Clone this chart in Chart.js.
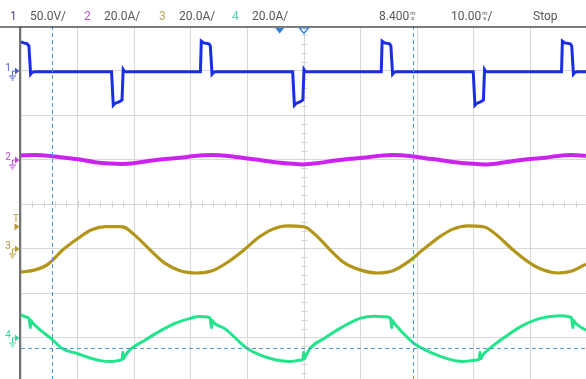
<!DOCTYPE html>
<html><head><meta charset="utf-8">
<script src="https://cdn.jsdelivr.net/npm/chart.js@4/dist/chart.umd.min.js"></script>
<style>
html,body{margin:0;padding:0;background:#fff;overflow:hidden;width:586px;height:379px;}
#wrap{position:absolute;left:0;top:0;width:590px;height:384px;}
.h{position:absolute;top:9px;font:12px Roboto, sans-serif;line-height:14px;color:#555;white-space:nowrap;}
.u{display:inline-block;font-size:6px;line-height:5px;text-align:center;vertical-align:baseline;margin-left:1px;}
</style></head>
<body>
<div id="wrap"><canvas id="c"></canvas></div>
<div class="h" style="left:10px;color:#4b4ba5">1</div>
<div class="h" style="left:30px">50.0V/</div>
<div class="h" style="left:84px;color:#c050d0">2</div>
<div class="h" style="left:104px">20.0A/</div>
<div class="h" style="left:159px;color:#b8a860">3</div>
<div class="h" style="left:179px">20.0A/</div>
<div class="h" style="left:232px;color:#50d0a0">4</div>
<div class="h" style="left:252px">20.0A/</div>
<div class="h" style="left:379px">8.400<span class="u">m<br>s</span></div>
<div class="h" style="left:451px">10.00<span class="u">m<br>s</span>/</div>
<div class="h" style="left:533px">Stop</div>
<script>
// time axis in ms (10 ms/div), vertical axis in divisions
const xTicks = [0,10,20,30,40,50,60,70,80,90,100];
const yTicks = [-4,-3,-2,-1,0,1,2,3,4];

const ch1T = [0,0.5,1.1,1.4,1.7,1.9,2.3, 16.0,16.3,16.6,17.4,17.85,18.05,18.25,18.6, 31.7,31.85,32.3,33.2,33.45,33.75,33.95,34.3, 48.0,48.3,48.6,49.35,49.8,50.0,50.2,50.55, 63.65,63.8,64.25,65.1,65.35,65.65,65.85,66.2, 79.9,80.2,80.5,81.25,81.7,81.9,82.1,82.45, 95.5,95.65,96.1,97.05,97.3,97.6,97.8,98.15,100];
const ch1V = [3.64,3.62,3.60,3.55,2.92,2.95,2.97, 2.97,2.22,2.26,2.30,2.34,3.02,2.98,2.97, 2.97,3.66,3.62,3.60,3.55,2.92,2.95,2.97, 2.97,2.22,2.26,2.30,2.34,3.02,2.98,2.97, 2.97,3.66,3.62,3.60,3.55,2.92,2.95,2.97, 2.97,2.22,2.26,2.30,2.34,3.02,2.98,2.97, 2.97,3.66,3.62,3.60,3.55,2.92,2.95,2.97,2.97];

const ch2T = [0,2.5,5.1,7.8,10.4,13.1,15.7,17.8,20.1,22.8,25.4,28.1,30.7,33.7,36.6,39.6,42.2,44.9,47.5,49.8,52.5,55.1,57.8,60.4,63.1,65.7,68.7,71.4,74.0,76.7,79.3,82.0,84.6,87.3,89.9,92.6,94.9,97.3,99.8];
const ch2V = [1.09,1.10,1.08,1.04,1.00,0.94,0.91,0.90,0.92,0.97,1.01,1.04,1.08,1.10,1.08,1.03,0.99,0.94,0.91,0.89,0.92,0.97,1.01,1.04,1.08,1.10,1.08,1.03,0.99,0.94,0.91,0.89,0.92,0.97,1.01,1.04,1.08,1.10,1.08];

const ch3T = [0,2.5,4.8,7.4,10.1,12.5,15.0,17.5,18.2,20.1,22.8,25.4,28.1,31.1,33.8,36.6,39.4,41.9,44.4,47.0,49.8,50.4,52.1,54.6,57.2,59.9,62.9,65.7,68.4,71.0,73.7,76.2,79.0,81.6,82.2,84.1,86.9,89.6,92.2,94.9,97.5,99.8];
const ch3V = [-1.53,-1.48,-1.35,-1.03,-0.77,-0.58,-0.51,-0.51,-0.52,-0.70,-1.03,-1.33,-1.50,-1.55,-1.50,-1.30,-1.03,-0.76,-0.57,-0.49,-0.51,-0.53,-0.70,-1.03,-1.33,-1.48,-1.55,-1.50,-1.30,-1.03,-0.76,-0.57,-0.49,-0.51,-0.53,-0.70,-1.03,-1.30,-1.48,-1.55,-1.50,-1.35];

const ch4T = [0,0.9,1.45,1.65,1.8,2.0,3.5,5.5,7.2,9.9,12.2,14.0,16.1,17.5,17.85,18.0,18.15,18.35,19.6,21.9,24.6,27.2,29.9,31.6,33.0,33.45,33.65,33.8,34.0,36.0,39.9,42.2,44.9,47.5,49.3,49.8,49.95,50.1,50.3,51.1,53.7,56.4,59.9,62.5,64.8,65.3,65.5,65.65,65.85,67.5,69.3,70.8,74.0,78.1,80.3,80.95,81.1,81.25,81.45,82.9,85.5,88.2,91.7,95.2,97.0,97.3,97.5,97.65,97.85,99.8];
const ch4V = [-2.49,-2.54,-2.58,-2.78,-2.62,-2.66,-2.84,-3.04,-3.24,-3.36,-3.46,-3.52,-3.54,-3.51,-3.49,-3.33,-3.48,-3.42,-3.24,-3.06,-2.85,-2.68,-2.57,-2.53,-2.54,-2.58,-2.78,-2.62,-2.66,-2.80,-3.24,-3.39,-3.50,-3.54,-3.51,-3.49,-3.33,-3.48,-3.42,-3.24,-3.01,-2.79,-2.57,-2.52,-2.54,-2.58,-2.78,-2.62,-2.66,-2.90,-3.12,-3.24,-3.42,-3.54,-3.51,-3.49,-3.33,-3.48,-3.42,-3.24,-2.99,-2.76,-2.57,-2.51,-2.54,-2.58,-2.78,-2.62,-2.66,-2.84];

const chLabels = ['1','2','3','4'];
const chGround = [3,1,-1,-3];
const chMarkColors = ['#4a5ccf','#c04ad8','#b49a2a','#3bd79a'];
const triggerLevel = -0.5;
const cursorT = [5.5, 69.3];
const cursorV = [-3.24];
const topMarkT = [45.7, 50];

function pts(t,v){return t.map((x,i)=>({x:x,y:v[i]}));}

const scopePlugin = {
  id:'scope',
  beforeDatasetsDraw(chart){
    const {ctx, chartArea:a, scales:{x,y}} = chart;
    ctx.save();
    ctx.strokeStyle='#d2d2d2'; ctx.lineWidth=1;
    const cx = Math.round(x.getPixelForValue(50))+0.5;
    const cy = Math.round(y.getPixelForValue(0))+0.5;
    ctx.beginPath();
    for(let v=-4; v<=4.001; v+=0.2){const py=Math.round(y.getPixelForValue(v))+0.5; ctx.moveTo(cx-3,py); ctx.lineTo(cx+3,py);}
    for(let t=0; t<=100.001; t+=2){const px=Math.round(x.getPixelForValue(t))+0.5; ctx.moveTo(px,cy-3); ctx.lineTo(px,cy+3);}
    ctx.stroke();
    ctx.restore();
  },
  afterDatasetsDraw(chart){
    const {ctx, chartArea:a, scales:{x,y}} = chart;
    ctx.save();
    ctx.strokeStyle='#4b9bd8'; ctx.lineWidth=1; ctx.setLineDash([4,3]);
    ctx.beginPath();
    cursorT.forEach(t=>{const px=Math.round(x.getPixelForValue(t))+0.5; ctx.moveTo(px,a.top); ctx.lineTo(px,a.bottom);});
    cursorV.forEach(v=>{const py=Math.round(y.getPixelForValue(v))+0.5; ctx.moveTo(a.left,py); ctx.lineTo(a.right,py);});
    ctx.stroke();
    ctx.setLineDash([]);
    ctx.strokeStyle='#555'; ctx.lineWidth=1.5;
    ctx.beginPath(); ctx.moveTo(0,27); ctx.lineTo(a.right+5,27); ctx.stroke();
    ctx.strokeStyle='#444';
    ctx.beginPath(); ctx.moveTo(20,27); ctx.lineTo(20,a.bottom+5); ctx.stroke();
    ctx.fillStyle='#2f7fd2'; ctx.strokeStyle='#2f7fd2'; ctx.lineWidth=1.2;
    topMarkT.forEach((t,i)=>{
      const px=x.getPixelForValue(t);
      ctx.beginPath(); ctx.moveTo(px-4.5,28); ctx.lineTo(px+4.5,28); ctx.lineTo(px,33.5); ctx.closePath();
      if(i===0) ctx.fill(); else ctx.stroke();
    });
    ctx.font='10px Roboto, sans-serif'; ctx.textAlign='center'; ctx.textBaseline='middle';
    chGround.forEach((g,i)=>{
      const py=y.getPixelForValue(g); const c=chMarkColors[i];
      ctx.fillStyle=c; ctx.strokeStyle=c; ctx.lineWidth=1;
      ctx.fillText(chLabels[i], 8, py-2);
      ctx.beginPath(); ctx.moveTo(12.5,py+5); ctx.lineTo(12.5,py+0.5); ctx.lineTo(16,py+0.5); ctx.stroke();
      ctx.beginPath(); ctx.moveTo(15,py-3); ctx.lineTo(19.5,py+0.5); ctx.lineTo(15,py+4); ctx.closePath(); ctx.fill();
      ctx.beginPath(); ctx.moveTo(9,py+5.5); ctx.lineTo(16,py+5.5); ctx.moveTo(10.5,py+7.5); ctx.lineTo(14.5,py+7.5); ctx.moveTo(11.5,py+9.5); ctx.lineTo(13.5,py+9.5); ctx.stroke();
    });
    const ty=y.getPixelForValue(triggerLevel);
    ctx.fillStyle=chMarkColors[2];
    ctx.fillText('T', 16, ty-7);
    ctx.beginPath(); ctx.moveTo(14.5,ty-3); ctx.lineTo(19.5,ty+0.5); ctx.lineTo(14.5,ty+4); ctx.closePath(); ctx.fill();
    ctx.restore();
  }
};

const ds = (t,v,c,w,smooth)=>({data:pts(t,v),borderColor:c,borderWidth:w,pointRadius:0,
  tension:smooth?0.4:0,cubicInterpolationMode:smooth?'monotone':'default',fill:false});

new Chart(document.getElementById('c'),{
  type:'line',
  data:{datasets:[
    ds(ch4T,ch4V,'#22e48c',3,true),
    ds(ch3T,ch3V,'#b3951a',3.2,true),
    ds(ch2T,ch2V,'#cc22ee',4,true),
    ds(ch1T,ch1V,'#1a2ee6',3,false)
  ]},
  options:{
    responsive:true, maintainAspectRatio:false, animation:false,
    layout:{padding:{left:21,top:26,right:3,bottom:2}},
    plugins:{legend:{display:false},tooltip:{enabled:false},title:{display:false}},
    scales:{
      x:{type:'linear',min:0,max:100,
         afterBuildTicks(s){s.ticks=xTicks.map(v=>({value:v}));},
         ticks:{display:false},grid:{color:'#d8d8d8',lineWidth:1,drawTicks:false},border:{display:false},
         afterFit(s){s.height=0;}},
      y:{type:'linear',min:-4,max:4,
         afterBuildTicks(s){s.ticks=yTicks.map(v=>({value:v}));},
         ticks:{display:false},grid:{color:'#d8d8d8',lineWidth:1,drawTicks:false},border:{display:false},
         afterFit(s){s.width=0;}}
    }
  },
  plugins:[scopePlugin]
});
</script>
</body></html>
